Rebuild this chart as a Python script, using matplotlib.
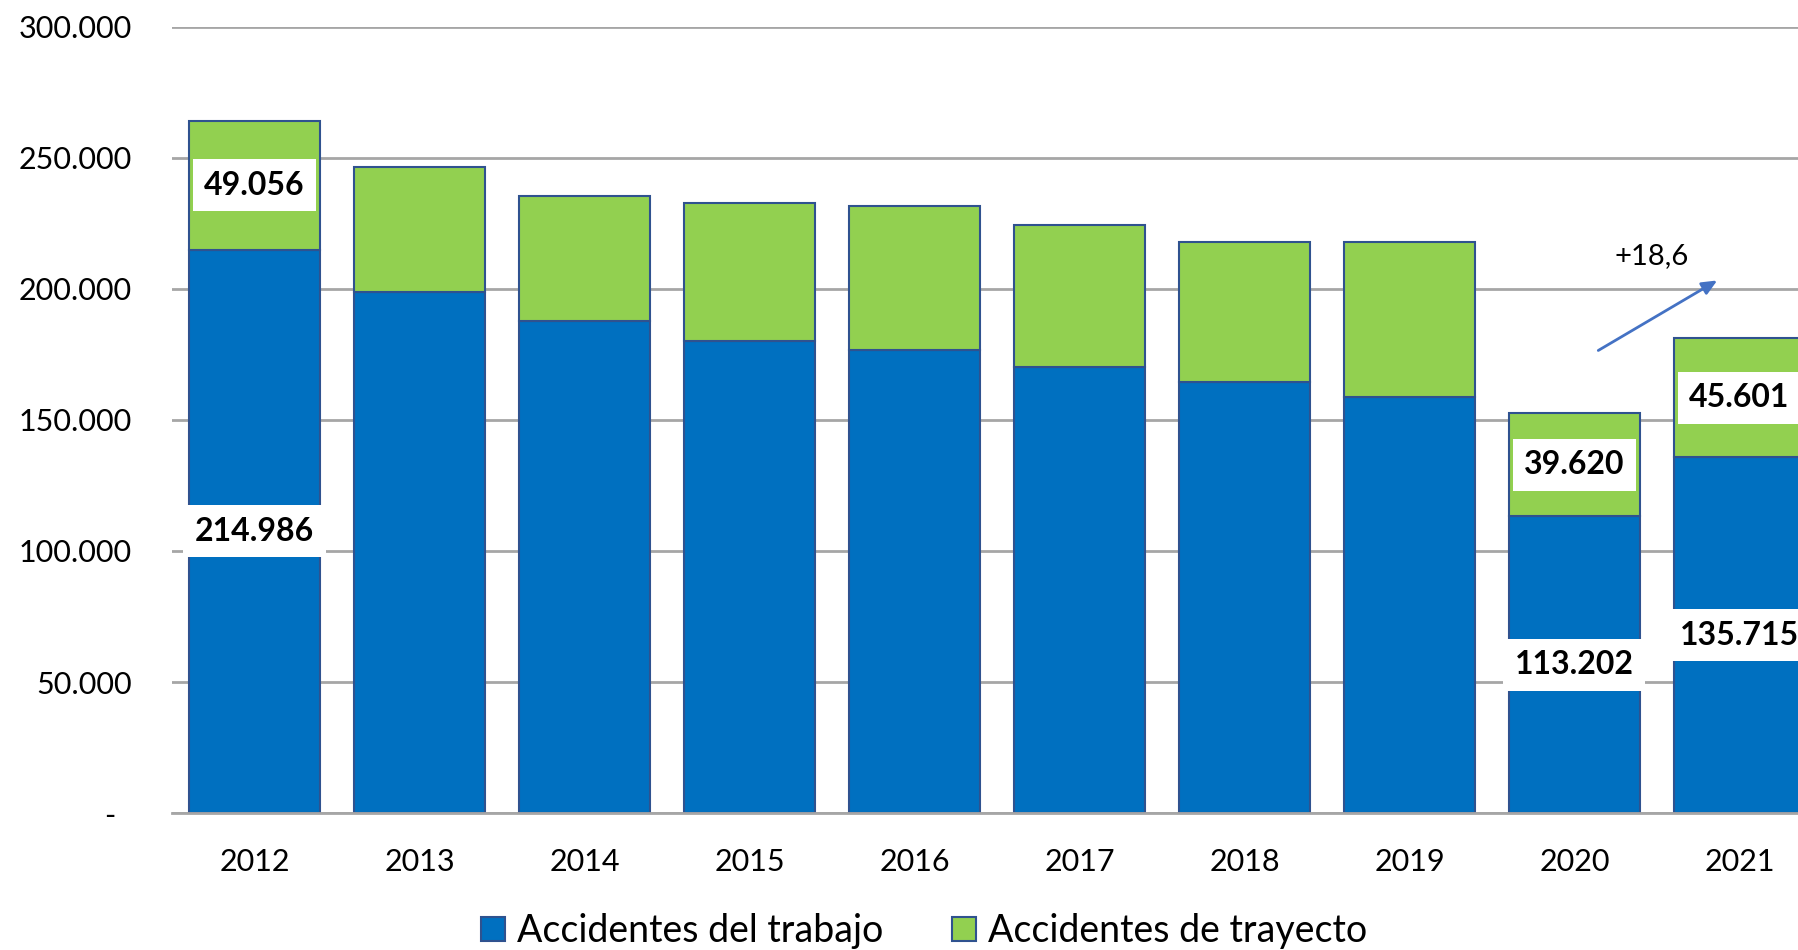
import matplotlib
matplotlib.use("Agg")
import matplotlib.pyplot as plt
from matplotlib.patches import Patch
from matplotlib.ticker import FuncFormatter, MultipleLocator

years = ["2012", "2013", "2014", "2015", "2016", "2017", "2018", "2019", "2020", "2021"]
trabajo = [214986, 198800, 187800, 180000, 176900, 170300, 164600, 158900, 113202, 135715]
trayecto = [49056, 47700, 47700, 52900, 54700, 54300, 53400, 59100, 39620, 45601]
labeled = [0, 8, 9]
series_names = ["Accidentes del trabajo", "Accidentes de trayecto"]
change_text = "+18,6"

BLUE = "#0070c0"
GREEN = "#92d050"
EDGE = "#2f528f"
GRID = "#a6a6a6"

plt.rcParams["font.family"] = ["Lato", "DejaVu Sans"]

fig = plt.figure(figsize=(17.98, 9.5), dpi=100)
ax = fig.add_axes([0.0957, 0.1442, 0.9176, 0.8274])

x = list(range(len(years)))
w = 0.79
ax.bar(x, trabajo, width=w, color=BLUE, edgecolor=EDGE, linewidth=1.5, zorder=3)
ax.bar(x, trayecto, width=w, bottom=trabajo, color=GREEN, edgecolor=EDGE, linewidth=1.5, zorder=3)

def fmt_num(v):
    return f"{v:,}".replace(",", ".")

bbox = dict(boxstyle="square,pad=0.36", facecolor="white", edgecolor="none")
for i in labeled:
    ax.text(i, trabajo[i] / 2, fmt_num(trabajo[i]), ha="center", va="center",
            fontsize=23, fontweight="bold", bbox=bbox, zorder=5)
    ax.text(i, trabajo[i] + trayecto[i] / 2, fmt_num(trayecto[i]), ha="center", va="center",
            fontsize=23, fontweight="bold", bbox=bbox, zorder=5)

ax.annotate("", xy=(8.88, 203800), xytext=(8.13, 176000),
            arrowprops=dict(arrowstyle="-|>,head_length=0.9,head_width=0.4", color="#4472c4", lw=2),
            zorder=6)
ax.text(8.47, 212600, change_text, ha="center", va="center", fontsize=21, zorder=6)

ax.set_xlim(-0.5, len(years) - 0.5)
ax.set_ylim(0, 300000)
ax.yaxis.set_major_locator(MultipleLocator(50000))
ax.yaxis.set_major_formatter(FuncFormatter(lambda v, p: "-  " if v == 0 else fmt_num(int(v))))
ax.set_xticks(x)
ax.set_xticklabels(years)
ax.tick_params(axis="y", length=0, pad=29, labelsize=22)
ax.tick_params(axis="x", length=0, pad=25, labelsize=22)
ax.grid(axis="y", color=GRID, linewidth=2, zorder=0)
ax.set_axisbelow(True)
for s in ["top", "right", "left"]:
    ax.spines[s].set_visible(False)
ax.spines["bottom"].set_color(GRID)
ax.spines["bottom"].set_linewidth(2)
ax.spines["bottom"].set_zorder(4)

handles = [Patch(facecolor=BLUE, edgecolor=EDGE, linewidth=1.5),
           Patch(facecolor=GREEN, edgecolor=EDGE, linewidth=1.5)]
fig.legend(handles, series_names, loc="center", bbox_to_anchor=(0.514, 0.02), ncol=2,
           frameon=False, fontsize=27, handlelength=0.62, handleheight=0.62,
           handletextpad=0.32, columnspacing=1.85, borderpad=0)

fig.savefig("out.png", dpi=100)
